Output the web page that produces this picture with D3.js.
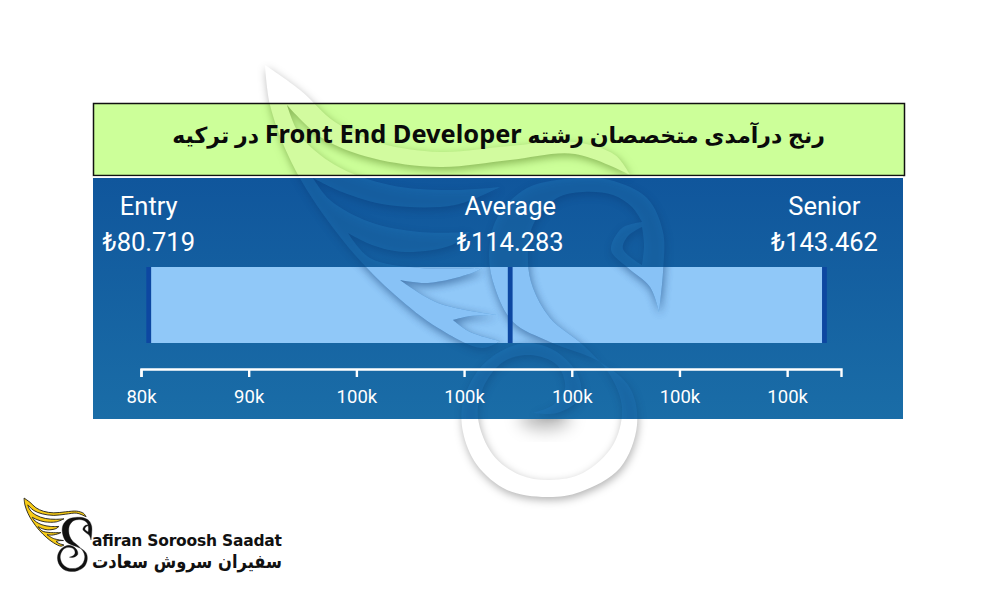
<!DOCTYPE html>
<html>
<head>
<meta charset="utf-8">
<script src="https://cdn.jsdelivr.net/npm/d3@7"></script>
<style>
html, body { margin: 0; padding: 0; background: #fff; }
svg { display: block; }
text { font-family: Roboto, sans-serif; }
</style>
</head>
<body>
<svg id="chart" width="1000" height="600"></svg>
<script>
// values (thousands of lira)
const levels = ["Entry", "Average", "Senior"];
const salaries = [80.719, 114.283, 143.462];
const salaryLabels = ["₺80.719", "₺114.283", "₺143.462"];
const tickValues = [80, 90, 100, 110, 120, 130, 140];
const tickLabels = ["80k", "90k", "100k", "100k", "100k", "100k", "100k"];

const titleBefore = "رنج درآمدی متخصصان رشته ";
const titleLatin = "Front End Developer";
const titleAfter = " در ترکیه";
const logoLatin = "afiran Soroosh Saadat";
const logoPersian = "سفیران سروش سعادت";

// swan outline, cut in pieces so the tips stay sharp
const wingPieces = [
    [[265,65],[300,90],[335,122],[380,143],[440,152],[510,146],[575,142],[615,155],[630,175]],
    [[630,175],[575,154],[510,160],[440,167],[372,158],[322,138],[287,105]],
    [[287,105],[300,135],[335,165],[390,185],[450,190],[500,187]],
    [[500,187],[455,205],[388,205],[342,192],[313,178]],
    [[313,178],[330,200],[370,222],[420,232],[470,232]],
    [[470,232],[452,245],[405,252],[372,245],[348,233]],
    [[348,233],[370,258],[420,268],[482,268]],
    [[482,268],[472,273],[428,283],[400,280]],
    [[400,280],[438,303],[497,315]],
    [[497,315],[470,316],[453,320]],
    [[453,320],[470,332],[500,341]],
    [[500,341],[482,348],[438,328],[395,295],[355,255],[312,198],[288,155],[270,105],[265,65]]
];
const bodyPieces = [
    [[659,312],[663,272],[663,232],[647,198],[610,180],[577,178],[527,188],[497,218],[489,255],[495,288],[513,322],[550,342],[600,362],[630,388],[637,425],[620,468],[580,492],[547,497],[507,490],[477,465],[463,432],[463,402],[480,368],[507,348],[530,343],[557,352],[578,375],[580,398],[557,413],[532,413]],
    [[532,413],[553,405],[565,388],[557,365],[530,355],[503,362],[483,388],[478,418],[493,455],[520,475],[550,480],[583,473],[613,445],[622,408],[610,375],[583,345],[550,318],[533,288],[528,262],[533,225],[557,198],[583,192],[613,195],[632,207],[642,222]],
    [[642,222],[622,228],[611,250],[628,268],[650,287],[659,312]]
];
const eyePieces = [
    [[642,227],[628,236],[623,249],[642,265]],
    [[642,265],[644,245],[642,227]]
];

const smooth = d3.line().curve(d3.curveCatmullRom);
const outline = function(pieces) {
    return pieces.map((p, i) => i == 0 ? smooth(p) : smooth(p).replace(/^M/, "L")).join("") + "Z";
};
const wingPath = outline(wingPieces);
const bodyPath = outline(bodyPieces) + outline(eyePieces);

const svg = d3.select("#chart");

const defs = svg.append("defs");
const gradient = defs.append("linearGradient").attr("id", "panelFill")
    .attr("x1", 0).attr("y1", 0).attr("x2", 0).attr("y2", 1);
gradient.append("stop").attr("offset", 0).attr("stop-color", "#10569c");
gradient.append("stop").attr("offset", 1).attr("stop-color", "#1a6da7");
defs.append("filter").attr("id", "blur").attr("x", "-50%").attr("y", "-50%").attr("width", "200%").attr("height", "200%")
    .append("feGaussianBlur").attr("stdDeviation", 8);

const x = d3.scaleLinear().domain([80, 145]).range([141, 841]);

const titleBox = {x: 93.5, y: 103.5, w: 811, h: 72};
const panel = {x: 93, y: 178, w: 810, h: 241};
const barBox = {x: x(salaries[0]), y: 267, w: x(salaries[2]) - x(salaries[0]), h: 76};

// watermark swan, tinted differently over each area
const drawSwan = function(id, box, fill, shadow) {
    const g = svg.append("g");
    if (box) {
        defs.append("clipPath").attr("id", id).append("rect")
            .attr("x", box.x).attr("y", box.y).attr("width", box.w).attr("height", box.h);
        g.attr("clip-path", "url(#" + id + ")");
    }
    g.selectAll("path")
        .data([wingPath, bodyPath])
        .enter()
        .append("path")
        .attr("d", d => d)
        .attr("fill", fill)
        .attr("fill-rule", "evenodd")
        .style("filter", "drop-shadow(1px 3px 4px " + shadow + ")");
};

drawSwan("clipWhite", null, "#ffffff", "rgba(0,0,0,0.3)");
svg.append("ellipse")
    .attr("cx", 545).attr("cy", 418).attr("rx", 26).attr("ry", 12)
    .attr("fill", "rgba(0,0,0,0.25)").attr("filter", "url(#blur)");

// backgrounds
svg.append("rect")
    .attr("x", titleBox.x).attr("y", titleBox.y).attr("width", titleBox.w).attr("height", titleBox.h)
    .attr("fill", "#ccff99");
svg.append("rect")
    .attr("x", panel.x).attr("y", panel.y).attr("width", panel.w).attr("height", panel.h)
    .attr("fill", "url(#panelFill)");
svg.append("rect")
    .attr("x", barBox.x).attr("y", barBox.y).attr("width", barBox.w).attr("height", barBox.h)
    .attr("fill", "#90c8f8");

drawSwan("clipGreen", titleBox, "#d2fb9f", "rgba(70,110,20,0.5)");
drawSwan("clipPanel", panel, "rgba(32,118,184,0.45)", "rgba(0,25,70,0.45)");
drawSwan("clipBar", barBox, "#88c2f6", "rgba(20,70,130,0.4)");

svg.append("rect")
    .attr("x", titleBox.x).attr("y", titleBox.y).attr("width", titleBox.w).attr("height", titleBox.h)
    .attr("fill", "none").attr("stroke", "#111").attr("stroke-width", 1.5);
svg.append("rect")
    .attr("x", 93).attr("y", 176.4).attr("width", 810).attr("height", 1.6)
    .attr("fill", "#fff");

const title = svg.append("text")
    .attr("x", 498.5).attr("y", 143)
    .attr("text-anchor", "middle")
    .attr("direction", "rtl")
    .style("font-family", "'Noto Sans', 'DejaVu Sans', sans-serif")
    .style("font-weight", "bold")
    .style("font-size", "22px")
    .attr("fill", "#0a0a0a");
title.append("tspan").text(titleBefore);
title.append("tspan").style("font-size", "25.4px").text(titleLatin);
title.append("tspan").text(titleAfter);

// end and average marks
svg.selectAll("rect.mark")
    .data(salaries)
    .enter()
    .append("rect")
    .attr("class", "mark")
    .attr("x", d => x(d) - 2.4)
    .attr("y", barBox.y)
    .attr("width", 4.8)
    .attr("height", barBox.h)
    .attr("fill", "#0d47a1");

svg.selectAll("text.level")
    .data(levels)
    .enter()
    .append("text")
    .attr("class", "level")
    .attr("x", (d, i) => x(salaries[i]))
    .attr("y", 215)
    .attr("text-anchor", "middle")
    .attr("fill", "#fff")
    .style("font-size", "25.5px")
    .text(d => d);

svg.selectAll("text.salary")
    .data(salaryLabels)
    .enter()
    .append("text")
    .attr("class", "salary")
    .attr("x", (d, i) => x(salaries[i]))
    .attr("y", 250.5)
    .attr("text-anchor", "middle")
    .attr("fill", "#fff")
    .style("font-size", "25.5px")
    .text(d => d);

const axis = d3.axisBottom(x)
    .tickValues(tickValues)
    .tickFormat((d, i) => tickLabels[i])
    .tickSize(8)
    .tickPadding(13);

const axisGroup = svg.append("g")
    .attr("transform", "translate(0,369)")
    .call(axis);
axisGroup.select(".domain").attr("stroke", "#fff").attr("stroke-width", 2.4);
axisGroup.selectAll(".tick line").attr("stroke", "#fff").attr("stroke-width", 2.4);
axisGroup.selectAll(".tick text")
    .attr("fill", "#fff")
    .style("font-family", "Roboto, sans-serif")
    .style("font-size", "18.5px");

// company logo, bottom left
const logo = svg.append("g").attr("transform", "translate(-21,487) scale(0.17)");
logo.append("path").attr("d", wingPath)
    .attr("fill", "#f7cb16").attr("stroke", "#111").attr("stroke-width", 5);
logo.append("path").attr("d", bodyPath)
    .attr("fill", "#111").attr("stroke", "#111").attr("stroke-width", 2).attr("fill-rule", "evenodd");

svg.append("text")
    .attr("x", 92).attr("y", 546)
    .attr("textLength", 190).attr("lengthAdjust", "spacing")
    .style("font-family", "'DejaVu Sans', sans-serif")
    .style("font-weight", "bold")
    .style("font-size", "15.5px")
    .attr("fill", "#111")
    .text(logoLatin);

svg.append("text")
    .attr("x", 282).attr("y", 568)
    .attr("text-anchor", "start")
    .attr("direction", "rtl")
    .attr("textLength", 190).attr("lengthAdjust", "spacingAndGlyphs")
    .style("font-family", "'DejaVu Sans', sans-serif")
    .style("font-weight", "bold")
    .style("font-size", "19px")
    .attr("fill", "#111")
    .text(logoPersian);
</script>
</body>
</html>
